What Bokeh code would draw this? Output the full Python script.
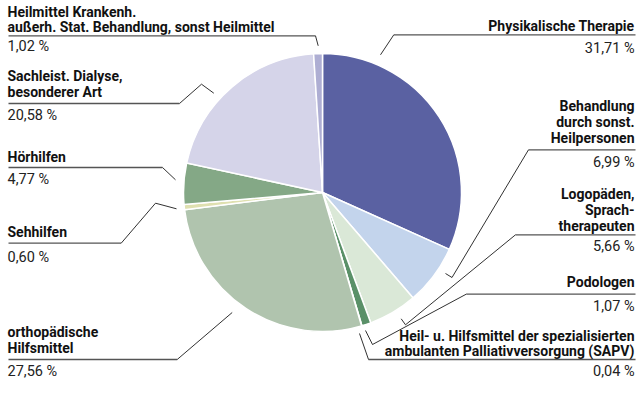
import math
from bokeh.plotting import figure
from bokeh.models import Range1d
from bokeh.core.properties import value
from bokeh.embed import file_html
from bokeh.resources import INLINE

# ---------------- data ----------------
categories = [
    "Physikalische Therapie",
    "Behandlung durch sonst. Heilpersonen",
    "Logopäden, Sprachtherapeuten",
    "Podologen",
    "Heil- u. Hilfsmittel der spezialisierten ambulanten Palliativversorgung (SAPV)",
    "orthopädische Hilfsmittel",
    "Sehhilfen",
    "Hörhilfen",
    "Sachleist. Dialyse, besonderer Art",
    "Heilmittel Krankenh. außerh. Stat. Behandlung, sonst Heilmittel",
]
shares = [31.71, 6.99, 5.66, 1.07, 0.04, 27.56, 0.60, 4.77, 20.58, 1.02]
label_lines = [
    ["Physikalische Therapie"],
    ["Behandlung", "durch sonst.", "Heilpersonen"],
    ["Logopäden,", "Sprach-", "therapeuten"],
    ["Podologen"],
    ["Heil- u. Hilfsmittel der spezialisierten", "ambulanten Palliativversorgung (SAPV)"],
    ["orthopädische", "Hilfsmittel"],
    ["Sehhilfen"],
    ["Hörhilfen"],
    ["Sachleist. Dialyse,", "besonderer Art"],
    ["Heilmittel Krankenh.", "außerh. Stat. Behandlung, sonst Heilmittel"],
]
colors = ["#5a61a2", "#c3d4ec", "#dae8d7", "#5a9068", "#3f7a50",
          "#b0c4ae", "#dfe0b0", "#84a886", "#d5d4e9", "#aeaed3"]

# ---------------- layout (picture pixels, origin top-left) ----------------
W, H = 636, 380
TEXT_DY = -5  # compensate the renderer's baseline placement
def dx(X): return X
def dy(Y): return H - Y

CX, CY, R = 322, 192, 139
LEFT_X, RIGHT_X = 7, 634
UL_L, UL_R = 8, 635

# per slice: side, label baselines, underline (x0, x1, y), leader points, value baseline
layout = [
    ("R", [30.3], (393.3, UL_R, 34.3), [(393.3, 34.3), (380, 54.3)], 52.7),
    ("R", [110, 126, 142], (528, UL_R, 149.3), [(528, 149.3), (451.5, 277), (445, 273)], 166.7),
    ("R", [198, 214, 230], (515, UL_R, 234.3), [(515, 234.3), (405, 324.3), (400.7, 318.3)], 251),
    ("R", [286], (465.7, UL_R, 293.7), [(465.7, 293.7), (372, 344), (365, 330)], 311),
    ("R", [340, 355], (368, UL_R, 359), [(368, 359), (359, 333)], 375.5),
    ("L", [336, 352], (UL_L, 176.7, 359), [(176.7, 359), (231.7, 312)], 375.5),
    ("L", [236.7], (UL_L, 120.7, 242.7), [(120.7, 242.7), (155, 202.7), (176, 208.3)], 261.7),
    ("L", [161], (UL_L, 162, 167), [(162, 167), (175, 179.3)], 184.3),
    ("L", [80.5, 96], (UL_L, 179, 103), [(179, 103), (201, 83.7), (213.3, 92.7)], 120),
    ("L", [16, 31.5], (UL_L, 315, 35.3), [(315, 35.3), (317.7, 45.3)], 51),
]

FONT = "Roboto"

p = figure(width=W, height=H, output_backend="svg", toolbar_location=None,
           x_range=Range1d(0, W), y_range=Range1d(0, H),
           x_axis_type=None, y_axis_type=None, min_border=0)
p.grid.visible = False
p.outline_line_color = None
p.background_fill_color = "white"
p.border_fill_color = "white"

# pie wedges: start at 12 o'clock, clockwise
total = sum(shares)
starts, ends = [], []
cum = 0.0
for s in shares:
    a = cum / total
    b = (cum + s) / total
    starts.append(math.pi / 2 - 2 * math.pi * b)
    ends.append(math.pi / 2 - 2 * math.pi * a)
    cum += s

p.wedge(x=[dx(CX)] * len(shares), y=[dy(CY)] * len(shares), radius=R,
        start_angle=starts, end_angle=ends, direction="anticlock",
        fill_color=colors, line_color="white", line_width=1.5)

# labels, underlines, leaders, values
lx, ly, lt, la = [], [], [], []
vx, vy, vt, va = [], [], [], []
for i, (side, bases, ul, leader, vbase) in enumerate(layout):
    ax = LEFT_X if side == "L" else RIGHT_X
    align = "left" if side == "L" else "right"
    for line, b in zip(label_lines[i], bases):
        lx.append(dx(ax)); ly.append(dy(b + TEXT_DY)); lt.append(line); la.append(align)
    txt = f"{shares[i]:.2f}".replace(".", ",") + " %"
    vx.append(dx(ax)); vy.append(dy(vbase + TEXT_DY)); vt.append(txt); va.append(align)
    x0, x1, uy = ul
    p.line([dx(x0), dx(x1)], [dy(uy), dy(uy)], line_color="#555555", line_width=1.3)
    p.line([dx(q[0]) for q in leader], [dy(q[1]) for q in leader],
           line_color="#1a1a1a", line_width=0.9)

p.text(x=lx, y=ly, text=lt, text_align=la, text_baseline="alphabetic",
       text_font=value(FONT), text_font_style="bold",
       text_font_size="14px", text_color="#111111")
p.text(x=vx, y=vy, text=vt, text_align=va, text_baseline="alphabetic",
       text_font=value(FONT), text_font_style="normal",
       text_font_size="14.5px", text_color="#222222")

open("out.html", "w").write(file_html(p, INLINE))
